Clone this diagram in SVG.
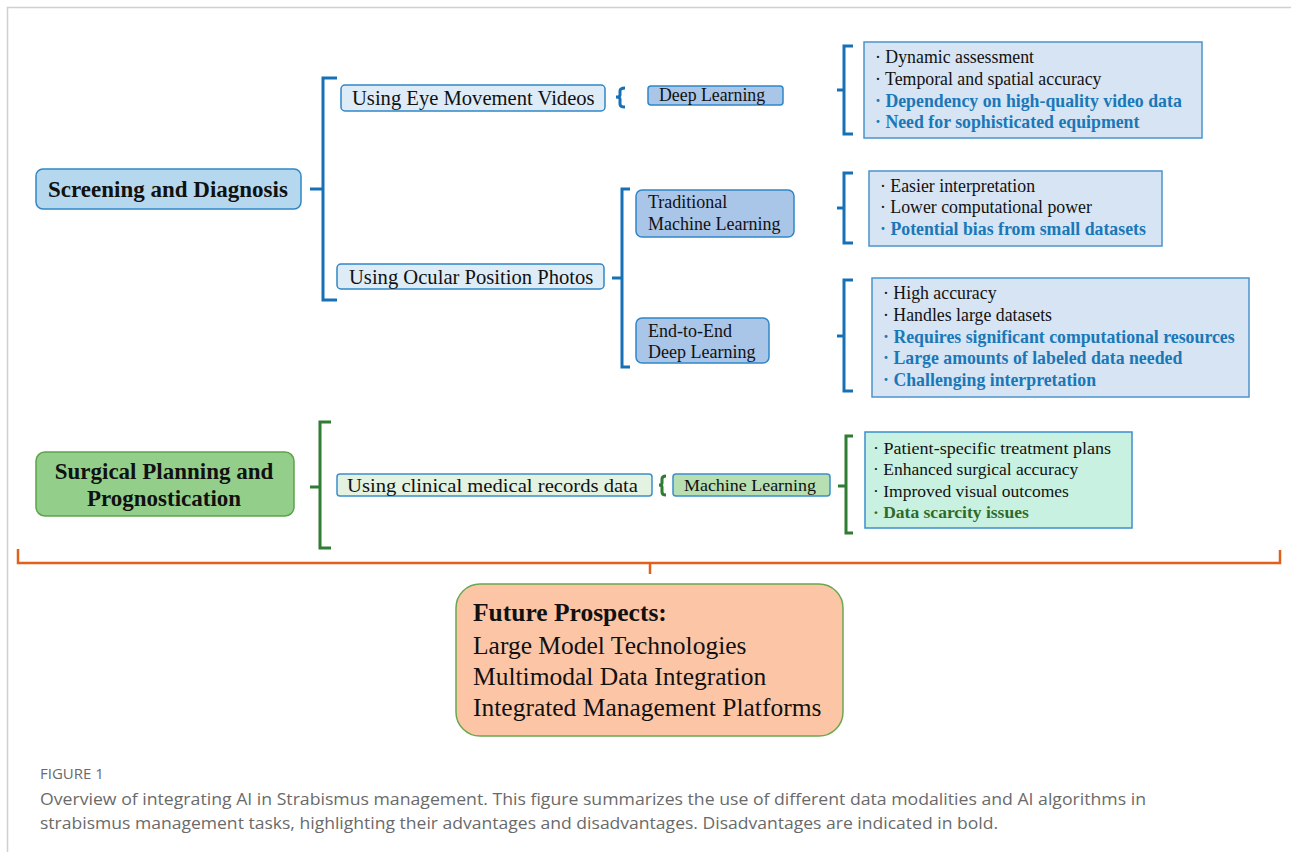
<svg xmlns="http://www.w3.org/2000/svg" width="1291" height="852" viewBox="0 0 1291 852">
<style>
.serif{font-family:"Liberation Serif","Times New Roman",serif;fill:#111}
.b{font-weight:bold}
.blueb{font-weight:bold;fill:#1a78b8}
.greenb{font-weight:bold;fill:#2e6b2a}
.rt{font-size:17.8px}
.bbr{fill:none;stroke:#1670b5;stroke-width:3}
.gbr{fill:none;stroke:#2f7d32;stroke-width:3}
.obr{fill:none;stroke:#e0601c;stroke-width:2.5}
.cap{font-family:"Open Sans","Liberation Sans",sans-serif;fill:#6a6a6a}
</style>
<rect x="0" y="0" width="1291" height="852" fill="#fff"/>
<path d="M7.5 852 V7.5 H1291" fill="none" stroke="#d0d0d0" stroke-width="1.5"/>

<g id="connectors">
  <path class="bbr" d="M310 189 H323 M337 78 H323 V300 H337"/>
  <path class="bbr" d="M612 278 H622 M630 189 H622 V367 H630"/>
  <path class="bbr" d="M625 88 Q620 88 620 91 V95 Q620 97 616 97 Q620 97 620 99 V104 Q620 107 625 107" stroke-width="3"/>
  <path class="bbr" d="M837 90 H844 M853 46 H844 V134 H853"/>
  <path class="bbr" d="M837 208 H844 M853 173 H844 V243 H853"/>
  <path class="bbr" d="M837 336 H844 M853 280 H844 V391 H853"/>
  <path class="gbr" d="M310 487 H320 M331 422 H320 V548 H331"/>
  <path class="gbr" d="M666 476 Q662 476 662 479 V483 Q662 485 659 485 Q662 485 662 487 V492 Q662 495 666 495" stroke-width="2.5"/>
  <path class="gbr" d="M838 486 H846 M853 436 H846 V533 H853"/>
  <path class="obr" d="M18 549 V563 H1280 V550 M650 563 V574"/>
</g>

<g id="screening">
  <rect x="36" y="169" width="265" height="40" rx="7" fill="#b5d8ee" stroke="#2f86c6" stroke-width="1.5"/>
  <text class="serif b" x="168" y="197" font-size="23" text-anchor="middle">Screening and Diagnosis</text>
</g>
<g id="eye-videos">
  <rect x="341" y="85" width="264" height="26" rx="4" fill="#deecf8" stroke="#2f86c6" stroke-width="1.5"/>
  <text class="serif" x="352" y="105" font-size="20.6">Using Eye Movement Videos</text>
</g>
<g id="deep-learning-1">
  <rect x="648" y="86" width="135" height="19" rx="3" fill="#a9c5e8" stroke="#2f86c6" stroke-width="1.5"/>
  <text class="serif" x="659" y="101" font-size="17.8">Deep Learning</text>
</g>
<g id="ocular-photos">
  <rect x="337" y="264" width="267" height="25" rx="4" fill="#deecf8" stroke="#2f86c6" stroke-width="1.5"/>
  <text class="serif" x="349" y="284" font-size="20.6">Using Ocular Position Photos</text>
</g>
<g id="traditional-ml">
  <rect x="636" y="190" width="158" height="47" rx="6" fill="#a9c5e8" stroke="#2f86c6" stroke-width="1.5"/>
  <text class="serif" x="648" y="208" font-size="18">Traditional</text>
  <text class="serif" x="648" y="230" font-size="18">Machine Learning</text>
</g>
<g id="e2e-dl">
  <rect x="636" y="318" width="133" height="45" rx="6" fill="#a9c5e8" stroke="#2f86c6" stroke-width="1.5"/>
  <text class="serif" x="648" y="337" font-size="18">End-to-End</text>
  <text class="serif" x="648" y="358" font-size="18">Deep Learning</text>
</g>
<g id="pros-cons-video">
  <rect x="864" y="42" width="338" height="96" fill="#d6e4f3" stroke="#4a94cc" stroke-width="1.5"/>
  <text class="serif rt" x="875" y="63">· Dynamic assessment</text>
  <text class="serif rt" x="875" y="85">· Temporal and spatial accuracy</text>
  <text class="serif rt blueb" x="875" y="107">· Dependency on high-quality video data</text>
  <text class="serif rt blueb" x="875" y="128">· Need for sophisticated equipment</text>
</g>
<g id="pros-cons-traditional">
  <rect x="869" y="171" width="293" height="75" fill="#d6e4f3" stroke="#4a94cc" stroke-width="1.5"/>
  <text class="serif rt" x="880" y="192">· Easier interpretation</text>
  <text class="serif rt" x="880" y="213">· Lower computational power</text>
  <text class="serif rt blueb" x="880" y="235">· Potential bias from small datasets</text>
</g>
<g id="pros-cons-e2e">
  <rect x="872" y="278" width="377" height="119" fill="#d6e4f3" stroke="#4a94cc" stroke-width="1.5"/>
  <text class="serif rt" x="883" y="299">· High accuracy</text>
  <text class="serif rt" x="883" y="321">· Handles large datasets</text>
  <text class="serif rt blueb" x="883" y="343">· Requires significant computational resources</text>
  <text class="serif rt blueb" x="883" y="364">· Large amounts of labeled data needed</text>
  <text class="serif rt blueb" x="883" y="386">· Challenging interpretation</text>
</g>
<g id="surgical">
  <rect x="36" y="452" width="258" height="64" rx="9" fill="#93cf8a" stroke="#5ea24c" stroke-width="1.5"/>
  <text class="serif b" x="164" y="479" font-size="23" text-anchor="middle">Surgical Planning and</text>
  <text class="serif b" x="164" y="506" font-size="23" text-anchor="middle">Prognostication</text>
</g>
<g id="clinical-records">
  <rect x="337" y="474" width="315" height="22" rx="3" fill="#e4f2e2" stroke="#3a8fcc" stroke-width="1.5"/>
  <text class="serif" x="347" y="492" font-size="19" textLength="291" lengthAdjust="spacingAndGlyphs">Using clinical medical records data</text>
</g>
<g id="machine-learning">
  <rect x="673" y="474" width="157" height="22" rx="3" fill="#b8dfb2" stroke="#3a8fcc" stroke-width="1.5"/>
  <text class="serif" x="684" y="491" font-size="17" textLength="132" lengthAdjust="spacingAndGlyphs">Machine Learning</text>
</g>
<g id="pros-cons-ml">
  <rect x="865" y="432" width="267" height="96" fill="#c9f1e2" stroke="#3a8fcc" stroke-width="1.5"/>
  <text class="serif" x="873" y="454" font-size="17.5" textLength="238" lengthAdjust="spacingAndGlyphs">· Patient-specific treatment plans</text>
  <text class="serif" x="873" y="475" font-size="17.5">· Enhanced surgical accuracy</text>
  <text class="serif" x="873" y="497" font-size="17.5">· Improved visual outcomes</text>
  <text class="serif greenb" x="873" y="518" font-size="17.5">· Data scarcity issues</text>
</g>
<g id="future">
  <rect x="456" y="584" width="387" height="152" rx="24" fill="#fcc6a6" stroke="#6aa84f" stroke-width="1.5"/>
  <text class="serif b" x="473" y="621" font-size="25.5">Future Prospects:</text>
  <text class="serif" x="473" y="654" font-size="25.5">Large Model Technologies</text>
  <text class="serif" x="473" y="685" font-size="25.5">Multimodal Data Integration</text>
  <text class="serif" x="473" y="716" font-size="25.5">Integrated Management Platforms</text>
</g>
<g id="caption">
  <text class="cap" x="40" y="779" font-size="15" fill="#555">FIGURE 1</text>
  <text class="cap" x="40" y="805" font-size="16" textLength="1106" lengthAdjust="spacingAndGlyphs">Overview of integrating AI in Strabismus management. This figure summarizes the use of different data modalities and AI algorithms in</text>
  <text class="cap" x="40" y="829" font-size="16" textLength="958" lengthAdjust="spacingAndGlyphs">strabismus management tasks, highlighting their advantages and disadvantages. Disadvantages are indicated in bold.</text>
</g>
</svg>
